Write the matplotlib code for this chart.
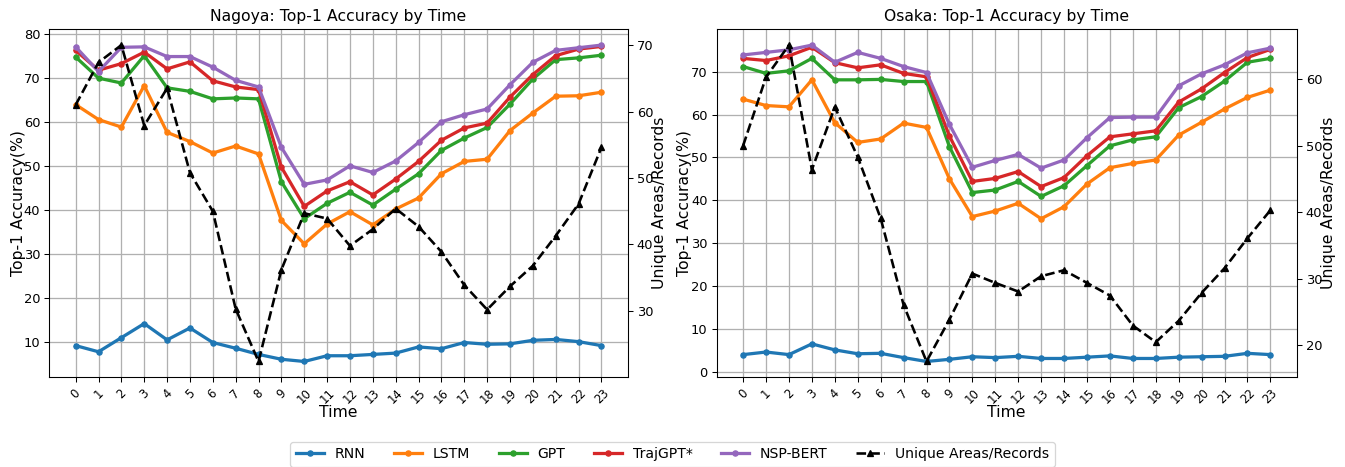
import matplotlib
matplotlib.use("Agg")
import matplotlib.pyplot as plt

hours = list(range(24))
hour_labels = [str(h) for h in hours]

model_names = ["RNN", "LSTM", "GPT", "TrajGPT*", "NSP-BERT"]
model_colors = ["#1f77b4", "#ff7f0e", "#2ca02c", "#d62728", "#9467bd"]

# Nagoya
nagoya_rnn = [9.2, 7.8, 11.0, 14.2, 10.5, 13.2, 9.9, 8.6, 7.2, 6.1, 5.6, 6.9, 6.9, 7.2, 7.5, 8.9, 8.5, 9.9, 9.5, 9.6, 10.4, 10.6, 10.1, 9.2]
nagoya_lstm = [63.9, 60.5, 58.8, 68.2, 57.6, 55.5, 52.9, 54.5, 52.7, 37.6, 32.3, 36.8, 39.6, 36.6, 40.2, 42.7, 48.2, 51.0, 51.5, 58.0, 62.0, 65.8, 65.9, 66.7]
nagoya_gpt = [74.7, 69.9, 68.8, 75.0, 67.7, 66.9, 65.2, 65.4, 65.2, 46.4, 38.0, 41.5, 44.0, 41.1, 44.7, 48.2, 53.5, 56.3, 58.7, 64.0, 69.7, 74.1, 74.5, 75.1]
nagoya_trajgpt = [76.2, 71.7, 73.2, 75.8, 72.0, 73.6, 69.3, 67.9, 67.3, 49.7, 40.8, 44.3, 46.4, 43.4, 47.0, 51.0, 55.8, 58.6, 59.7, 65.6, 70.7, 75.0, 76.5, 77.1]
nagoya_nspbert = [77.0, 71.4, 76.9, 77.0, 74.8, 74.8, 72.4, 69.4, 67.9, 54.2, 45.8, 46.8, 50.0, 48.5, 51.1, 55.3, 60.0, 61.6, 62.9, 68.4, 73.5, 76.2, 76.8, 77.4]
nagoya_unique = [61.0, 67.4, 70.0, 57.9, 63.5, 50.8, 45.0, 30.3, 22.4, 36.2, 44.7, 43.9, 39.8, 42.3, 45.4, 42.7, 38.9, 33.9, 30.2, 33.7, 36.8, 41.3, 46.1, 54.6]

# Osaka
osaka_rnn = [4.0, 4.6, 4.0, 6.5, 5.1, 4.2, 4.3, 3.3, 2.4, 2.9, 3.5, 3.3, 3.6, 3.1, 3.1, 3.4, 3.7, 3.1, 3.1, 3.4, 3.5, 3.6, 4.3, 4.0]
osaka_lstm = [63.6, 62.1, 61.8, 68.1, 58.1, 53.5, 54.3, 58.0, 57.0, 45.0, 36.2, 37.5, 39.3, 35.7, 38.5, 43.8, 47.6, 48.6, 49.4, 55.2, 58.2, 61.3, 64.0, 65.7]
osaka_gpt = [71.2, 69.6, 70.2, 73.1, 68.1, 68.1, 68.2, 67.7, 67.7, 52.5, 41.8, 42.4, 44.4, 40.9, 43.4, 48.1, 52.7, 54.1, 54.8, 61.6, 64.2, 67.8, 72.2, 73.1]
osaka_trajgpt = [73.1, 72.6, 73.7, 75.7, 72.1, 70.9, 71.6, 69.6, 68.8, 55.0, 44.4, 45.1, 46.7, 43.2, 45.3, 50.4, 54.8, 55.5, 56.2, 62.9, 66.0, 69.8, 73.3, 75.2]
osaka_nspbert = [73.9, 74.5, 75.1, 76.2, 72.2, 74.5, 73.1, 71.2, 69.8, 57.7, 47.7, 49.3, 50.7, 47.5, 49.4, 54.6, 59.3, 59.4, 59.4, 66.7, 69.5, 71.6, 74.4, 75.5]
osaka_unique = [50.0, 60.3, 65.1, 46.4, 55.8, 48.3, 39.1, 26.1, 17.6, 23.9, 30.8, 29.4, 28.1, 30.4, 31.3, 29.4, 27.5, 23.0, 20.5, 23.7, 27.9, 31.6, 36.1, 40.3]

cities = [
    ("Nagoya", [nagoya_rnn, nagoya_lstm, nagoya_gpt, nagoya_trajgpt, nagoya_nspbert], nagoya_unique),
    ("Osaka", [osaka_rnn, osaka_lstm, osaka_gpt, osaka_trajgpt, osaka_nspbert], osaka_unique),
]

DPI = 93.4
fig = plt.figure(figsize=(1345 / DPI, 467 / DPI), dpi=DPI)
positions = [[0.0367, 0.1921, 0.4300, 0.7452], [0.5329, 0.1921, 0.4312, 0.7452]]
left_label_x = [-0.0411, -0.0426]

handles = None
for pos, lx, (city, series, unique) in zip(positions, left_label_x, cities):
    ax = fig.add_axes(pos)
    lines = []
    for name, color, vals in zip(model_names, model_colors, series):
        ln, = ax.plot(hours, vals, color=color, marker="o", markersize=4,
                      linewidth=2.5, label=name)
        lines.append(ln)
    ax.set_title(f"{city}: Top-1 Accuracy by Time", fontsize=12)
    ax.set_xlabel("Time", fontsize=12)
    ax.set_ylabel("Top-1 Accuracy(%)", fontsize=12)
    ax.yaxis.set_label_coords(lx, 0.5)
    ax.xaxis.set_label_coords(0.5, -0.081)
    ax.set_xticks(hours)
    ax.set_xticklabels(hour_labels, rotation=45, fontsize=9)
    ax.tick_params(axis="y", labelsize=10)
    ax.grid(True, color="#b0b0b0", linewidth=1.0)
    ax2 = ax.twinx()
    ln2, = ax2.plot(hours, unique, color="black", linestyle="--", marker="^",
                    markersize=5, linewidth=2, label="Unique Areas/Records")
    ax2.set_ylabel("Unique Areas/Records", fontsize=12)
    ax2.yaxis.set_label_coords(1.0415, 0.5)
    ax2.tick_params(axis="y", labelsize=10)
    if handles is None:
        handles = lines + [ln2]

fig.legend(handles=handles, labels=[h.get_label() for h in handles],
           loc="upper center", ncol=6, fontsize=10.8,
           bbox_to_anchor=(0.5, 1 - 441.7 / 467), borderaxespad=0)

fig.savefig("out.png", dpi=DPI)
